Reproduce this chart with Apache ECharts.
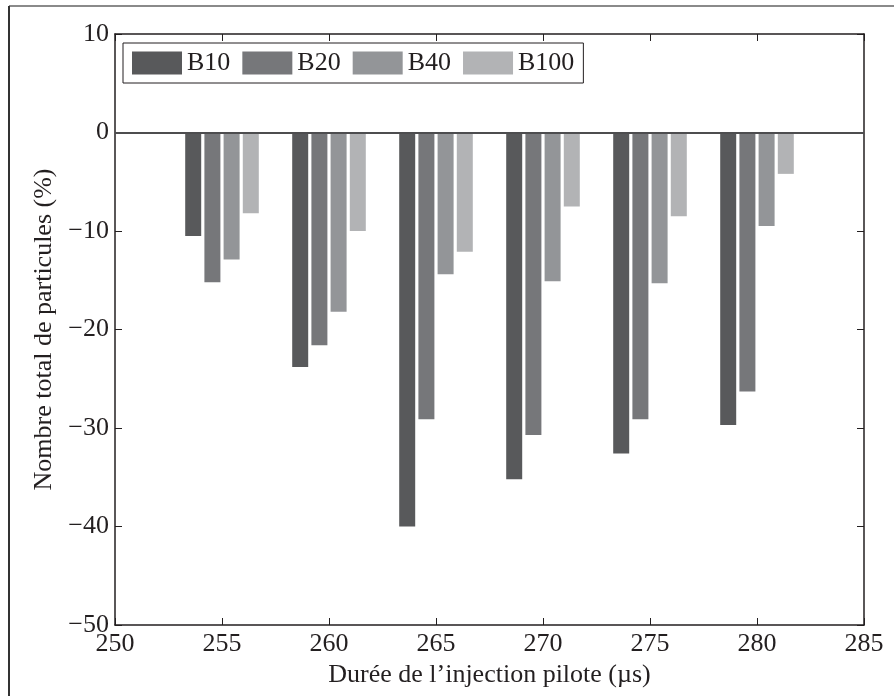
<!DOCTYPE html>
<html>
<head>
<meta charset="utf-8">
<script src="https://cdn.jsdelivr.net/npm/echarts@6/dist/echarts.min.js"></script>
<style>
html,body{margin:0;padding:0;background:#fff;}
#chart{width:894px;height:696px;}
</style>
</head>
<body>
<div id="chart"></div>
<script>
// Data
var durations = [255, 260, 265, 270, 275, 280];
var seriesNames = ['B10', 'B20', 'B40', 'B100'];
var b10 = [-10.5, -23.8, -40.0, -35.2, -32.6, -29.7];
var b20 = [-15.2, -21.6, -29.1, -30.7, -29.1, -26.3];
var b40 = [-12.9, -18.2, -14.4, -15.1, -15.3, -9.5];
var b100 = [-8.2, -10.0, -12.1, -7.5, -8.5, -4.2];
var xTicks = {min: 250, max: 285, interval: 5};
var yTicks = {min: -50, max: 10, interval: 10};

var colors = ['#58595b', '#76777a', '#939598', '#b2b3b5'];
var font = '"Liberation Serif", "Times New Roman", serif';
var txt = '#231f20';

function pairs(vals) {
  return durations.map(function (d, i) { return [d, vals[i]]; });
}
var allVals = [b10, b20, b40, b100];

var series = allVals.map(function (vals, k) {
  var s = {
    name: seriesNames[k],
    type: 'bar',
    data: pairs(vals),
    barWidth: 16,
    barGap: '20%',
    itemStyle: {color: colors[k]},
    emphasis: {disabled: true},
    animation: false
  };
  if (k === 3) {
    s.markLine = {
      silent: true,
      symbol: ['none', 'none'],
      label: {show: false},
      lineStyle: {color: '#4d4d4f', width: 2, type: 'solid'},
      data: [{yAxis: 0}],
      animation: false
    };
  }
  return s;
});

var chart = echarts.init(document.getElementById('chart'));
chart.setOption({
  backgroundColor: '#fff',
  animation: false,
  textStyle: {fontFamily: font, color: txt},
  grid: {left: 115, right: 30, top: 34, bottom: 71, containLabel: false},
  legend: {
    data: seriesNames,
    left: 123,
    top: 43,
    orient: 'horizontal',
    itemWidth: 50,
    itemHeight: 23,
    itemGap: 12,
    padding: [7, 9, 7, 9],
    borderColor: '#231f20',
    borderWidth: 1,
    backgroundColor: '#fff',
    icon: 'rect',
    textStyle: {fontFamily: font, fontSize: 26, color: txt, lineHeight: 23}
  },
  xAxis: [{
    type: 'value',
    min: xTicks.min, max: xTicks.max, interval: xTicks.interval,
    position: 'bottom',
    name: 'Durée de l\u2019injection pilote (\u00b5s)',
    nameLocation: 'middle',
    nameGap: 37,
    nameTextStyle: {fontFamily: font, fontSize: 26, color: txt},
    axisLine: {onZero: false, lineStyle: {color: '#231f20', width: 1.5}},
    axisTick: {inside: true, length: 7, lineStyle: {color: '#231f20'}},
    axisLabel: {fontFamily: font, fontSize: 26, color: txt, margin: 6},
    splitLine: {show: false}
  }, {
    type: 'value',
    min: xTicks.min, max: xTicks.max, interval: xTicks.interval,
    position: 'top',
    axisLine: {onZero: false, lineStyle: {color: '#231f20', width: 1.5}},
    axisTick: {inside: true, length: 7, lineStyle: {color: '#231f20'}},
    axisLabel: {show: false},
    splitLine: {show: false}
  }],
  yAxis: [{
    type: 'value',
    min: yTicks.min, max: yTicks.max, interval: yTicks.interval,
    position: 'left',
    name: 'Nombre total de particules (%)',
    nameLocation: 'middle',
    nameGap: 56,
    nameTextStyle: {fontFamily: font, fontSize: 26, color: txt},
    axisLine: {onZero: false, lineStyle: {color: '#231f20', width: 1.5}},
    axisTick: {inside: true, length: 7, lineStyle: {color: '#231f20'}},
    axisLabel: {fontFamily: font, fontSize: 26, color: txt, margin: 6,
      formatter: function (v) { return v < 0 ? '\u2212' + Math.abs(v) : String(v); }},
    splitLine: {show: false}
  }, {
    type: 'value',
    min: yTicks.min, max: yTicks.max, interval: yTicks.interval,
    position: 'right',
    axisLine: {onZero: false, lineStyle: {color: '#231f20', width: 1.5}},
    axisTick: {inside: true, length: 7, lineStyle: {color: '#231f20'}},
    axisLabel: {show: false},
    splitLine: {show: false}
  }],
  graphic: [
    {type: 'line', shape: {x1: 9, y1: 6, x2: 894, y2: 6}, style: {stroke: '#8a8a8a', lineWidth: 2}, silent: true},
    {type: 'line', shape: {x1: 9, y1: 6, x2: 9, y2: 696}, style: {stroke: '#333', lineWidth: 2}, silent: true}
  ],
  series: series
});
</script>
</body>
</html>
